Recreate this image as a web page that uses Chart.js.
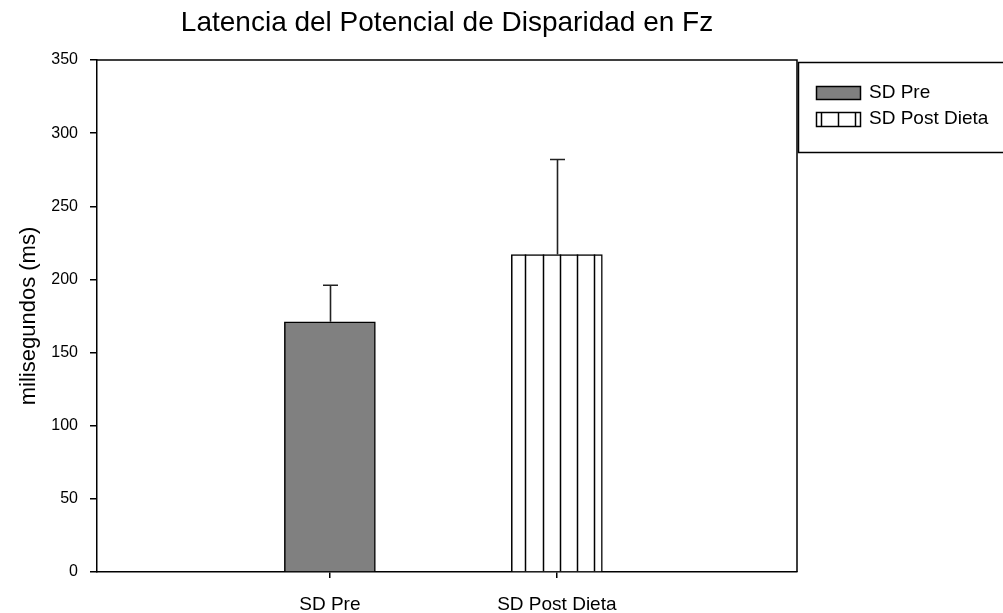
<!DOCTYPE html>
<html>
<head>
<meta charset="utf-8">
<script src="https://cdn.jsdelivr.net/npm/chart.js@4"></script>
<style>
  html, body { margin: 0; padding: 0; background: #fff; }
  canvas { display: block; }
</style>
</head>
<body>
<canvas id="grafico" width="1003" height="613"></canvas>
<script>
// Datos
const categorias = ['SD Pre', 'SD Post Dieta'];
const posiciones = [1, 2];
const medias = [171, 217];
const errores = [25, 65];
const yTicks = [0, 50, 100, 150, 200, 250, 300, 350];
const titulo = 'Latencia del Potencial de Disparidad en Fz';
const tituloY = 'milisegundos (ms)';

const FUENTE = '"Liberation Sans", Arial, sans-serif';

// Rayas verticales de la segunda barra
const rayasPlugin = {
    id: 'rayas',
    afterDatasetsDraw(chart) {
        const bar = chart.getDatasetMeta(0).data[1];
        if (!bar) return;
        const { x, y, base, width } = bar.getProps(['x', 'y', 'base', 'width'], true);
        const izq = x - width / 2;
        const der = x + width / 2;
        const ctx = chart.ctx;
        ctx.save();
        ctx.strokeStyle = '#000';
        ctx.lineWidth = 1.5;
        for (let xx = izq + 14; xx < der - 2; xx += 17.2) {
            ctx.beginPath();
            ctx.moveTo(Math.round(xx) + 0.5, y);
            ctx.lineTo(Math.round(xx) + 0.5, base);
            ctx.stroke();
        }
        ctx.restore();
    }
};

// Barras de error (solo hacia arriba)
const erroresPlugin = {
    id: 'errores',
    afterDatasetsDraw(chart) {
        const ctx = chart.ctx;
        const sx = chart.scales.x;
        const sy = chart.scales.y;
        ctx.save();
        ctx.strokeStyle = '#222';
        ctx.lineWidth = 1.6;
        medias.forEach((m, i) => {
            const px = Math.round(sx.getPixelForValue(posiciones[i])) + 0.5;
            const y0 = sy.getPixelForValue(m);
            const y1 = sy.getPixelForValue(m + errores[i]);
            ctx.beginPath();
            ctx.moveTo(px, y0);
            ctx.lineTo(px, y1);
            ctx.moveTo(px - 7.5, y1);
            ctx.lineTo(px + 7.5, y1);
            ctx.stroke();
        });
        ctx.restore();
    }
};

// Marco, título y leyenda
const marcoPlugin = {
    id: 'marco',
    afterDraw(chart) {
        const ctx = chart.ctx;
        const a = chart.chartArea;
        ctx.save();
        ctx.strokeStyle = '#000';
        ctx.lineWidth = 1.5;
        ctx.beginPath();
        ctx.moveTo(a.left, a.top);
        ctx.lineTo(a.right, a.top);
        ctx.lineTo(a.right, a.bottom);
        ctx.stroke();

        // título
        ctx.fillStyle = '#000';
        ctx.font = '28px ' + FUENTE;
        ctx.textAlign = 'center';
        ctx.textBaseline = 'middle';
        ctx.fillText(titulo, (a.left + a.right) / 2, 23);

        // leyenda
        ctx.lineWidth = 1.5;
        ctx.strokeRect(798.5, 62.5, 220, 90);
        ctx.fillStyle = '#808080';
        ctx.fillRect(816, 86, 44, 13);
        ctx.strokeRect(816.5, 86.5, 44, 13);
        ctx.fillStyle = '#fff';
        ctx.fillRect(816, 112, 44, 14);
        ctx.strokeRect(816.5, 112.5, 44, 14);
        [821, 838, 855].forEach(xx => {
            ctx.beginPath();
            ctx.moveTo(xx + 0.5, 112.5);
            ctx.lineTo(xx + 0.5, 126.5);
            ctx.stroke();
        });
        ctx.fillStyle = '#000';
        ctx.font = '19px ' + FUENTE;
        ctx.textAlign = 'left';
        ctx.textBaseline = 'middle';
        ctx.fillText(categorias[0], 869, 93);
        ctx.fillText(categorias[1], 869, 119);
        ctx.restore();
    }
};

new Chart(document.getElementById('grafico'), {
    type: 'bar',
    data: {
        datasets: [{
            label: 'Latencia',
            data: posiciones.map((p, i) => ({ x: p, y: medias[i] })),
            backgroundColor: ['#808080', '#ffffff'],
            borderColor: '#000',
            borderWidth: 1.5,
            barThickness: 91
        }]
    },
    options: {
        responsive: false,
        animation: false,
        layout: { padding: { top: 60, left: 0, right: 206, bottom: 0 } },
        plugins: {
            legend: { display: false },
            title: { display: false },
            tooltip: { enabled: false }
        },
        scales: {
            x: {
                type: 'linear',
                min: -0.026,
                max: 3.058,
                offset: false,
                afterBuildTicks(scale) {
                    scale.ticks = posiciones.map(v => ({ value: v }));
                },
                afterFit(scale) { scale.height = 41; },
                ticks: {
                    callback: (v) => categorias[posiciones.indexOf(v)],
                    color: '#000',
                    font: { family: FUENTE, size: 19 },
                    padding: 15,
                    maxRotation: 0,
                    autoSkip: false
                },
                grid: { drawOnChartArea: false, offset: false, tickLength: 6, color: '#000', lineWidth: 1.5 },
                border: { color: '#000', width: 1.5 }
            },
            y: {
                min: 0,
                max: 350,
                afterBuildTicks(scale) {
                    scale.ticks = yTicks.map(v => ({ value: v }));
                },
                afterFit(scale) { scale.width = 97; },
                ticks: {
                    color: '#000',
                    font: { family: FUENTE, size: 16 },
                    padding: 12
                },
                grid: { drawOnChartArea: false, tickLength: 7, color: '#000', lineWidth: 1.5 },
                border: { color: '#000', width: 1.5 },
                title: {
                    display: true,
                    text: tituloY,
                    color: '#000',
                    font: { family: FUENTE, size: 22 },
                    padding: { top: 16, bottom: 0 }
                }
            }
        }
    },
    plugins: [rayasPlugin, erroresPlugin, marcoPlugin]
});
</script>
</body>
</html>
